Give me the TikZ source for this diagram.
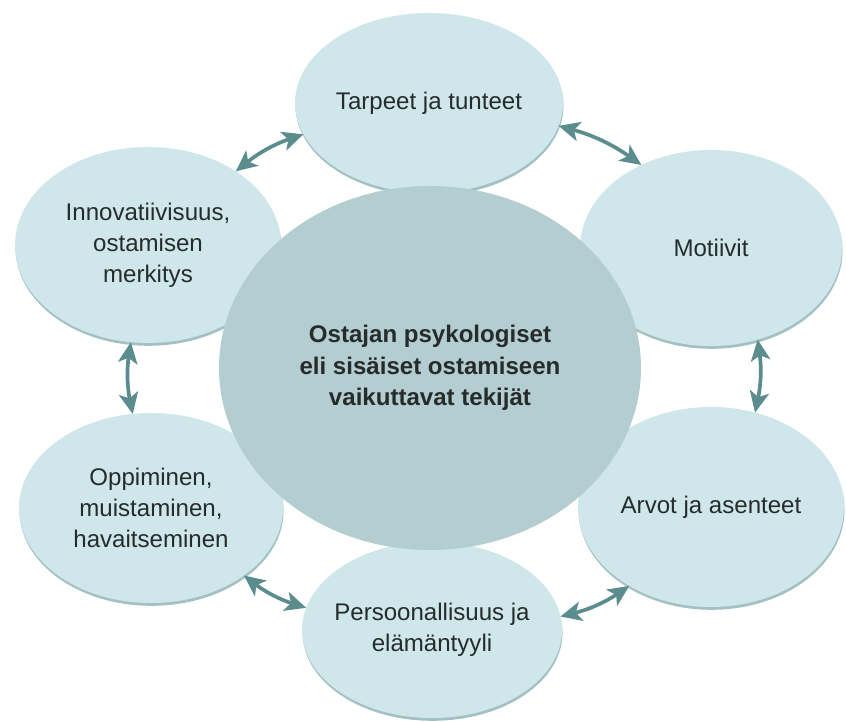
\documentclass[tikz,border=0pt]{standalone}
\usetikzlibrary{arrows.meta,shapes.geometric,shadows}
\usepackage{fontspec}
\setmainfont{Liberation Sans}
\definecolor{satfill}{HTML}{CFE7EB}
\definecolor{corefill}{HTML}{B4CDD0}
\definecolor{shadecol}{HTML}{8DB2B5}
\definecolor{linkcol}{HTML}{5B8C8E}
\definecolor{txtcol}{HTML}{262B2C}

\begin{document}
\begin{tikzpicture}[line width=0.8pt,>=Stealth]
\tikzset{sat/.style={ellipse,fill=satfill,text=txtcol,align=center,outer sep=0pt,
    inner ysep=0pt,inner xsep=-0.8cm,font=\fontsize{13.7}{17.6}\selectfont,
    drop shadow={shadow xshift=0.3pt,shadow yshift=-1.6pt,fill=shadecol,opacity=0.8}},
  core/.style={ellipse,fill=corefill,text=txtcol,align=center,outer sep=0pt,inner sep=0pt,
    minimum width=8.44cm,minimum height=7.28cm,font=\bfseries\fontsize{13.7}{17.9}\selectfont},
  link/.style={line width=2.1pt,draw=linkcol,bend left=10,
    {Stealth[length=12pt,width=11pt,inset=3pt]}-{Stealth[length=12pt,width=11pt,inset=3pt]}}}
\useasboundingbox[fill=white] (0,0) rectangle (16.92,14.44);
% ================= outer ring =================
\node[sat,minimum width=5.36cm,minimum height=3.60cm] (tarpeet) at (8.58,12.38) {Tarpeet ja tunteet};
\node[sat,minimum width=5.24cm,minimum height=3.92cm] (motiivit) at (14.22,9.48) {Motiivit};
\node[sat,minimum width=5.32cm,minimum height=4.00cm] (arvot) at (14.22,4.30) {Arvot ja asenteet};
\node[sat,minimum width=5.20cm,minimum height=3.52cm] (persoona) at (8.64,1.84) {Persoonallisuus ja\\elämäntyyli};
\node[sat,minimum width=5.28cm,minimum height=3.80cm] (oppiminen) at (3.02,4.28) {Oppiminen,\\muistaminen,\\havaitseminen};
\node[sat,minimum width=5.32cm,minimum height=3.92cm] (innov) at (2.96,9.54) {Innovatiivisuus,\\ostamisen\\merkitys};
% ================= centre =================
\node[core] (ostaja) at (8.60,7.08) {Ostajan psykologiset\\eli sisäiset ostamiseen\\vaikuttavat tekijät};
% ---------- two-way links, clockwise ----------
\draw[link] (innov.40) to (tarpeet.194);
\draw[link] (tarpeet.350) to (motiivit.130);
\draw[link] (motiivit.297) to (arvot.65);
\draw[link] (arvot.224) to (persoona.6);
\draw[link] (persoona.170) to (oppiminen.324);
\draw[link] (oppiminen.101) to (innov.260);
\end{tikzpicture}
\end{document}
